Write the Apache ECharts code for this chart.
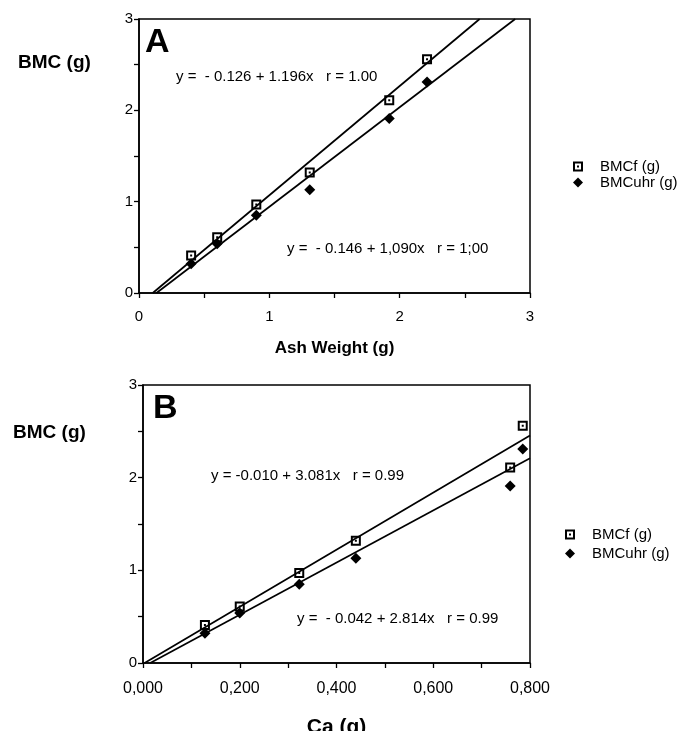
<!DOCTYPE html>
<html>
<head>
<meta charset="utf-8">
<script src="https://cdn.jsdelivr.net/npm/echarts@6/dist/echarts.min.js"></script>
<style>
  html, body { margin: 0; padding: 0; background: #fff; }
  #chart { width: 682px; height: 731px; }
</style>
</head>
<body>
<div id="chart"></div>
<script>
// x values for the two panels
const ashWeight = [0.40, 0.60, 0.90, 1.31, 1.92, 2.21];
const caGrams = [0.128, 0.200, 0.323, 0.440, 0.759, 0.785];
// measured BMC values (same samples in both panels)
const bmcf = [0.41, 0.61, 0.97, 1.32, 2.11, 2.56];
const bmcuhr = [0.32, 0.54, 0.85, 1.13, 1.91, 2.31];
// regression fits [intercept, slope]
const fitAshF = [-0.126, 1.196];
const fitAshUhr = [-0.146, 1.090];
const fitCaF = [-0.010, 3.081];
const fitCaUhr = [-0.042, 2.814];
const seriesNames = ["BMCf (g)", "BMCuhr (g)"];
const eqA = ["y =  - 0.126 + 1.196x   r = 1.00", "y =  - 0.146 + 1,090x   r = 1;00"];
const eqB = ["y = -0.010 + 3.081x   r = 0.99", "y =  - 0.042 + 2.814x   r = 0.99"];

const FONT = "Liberation Sans, Arial, sans-serif";
const squareDot = "path://M0,0H10V10H0Z M2,2V8H8V2Z M4,4H6V6H4Z";

function pairs(xs, ys) {
  return xs.map((x, i) => [x, ys[i]]);
}

// fitted line clipped to the plot box (y from 0 to ymax, x up to xmax)
function fitLine(fit, xmax, ymax) {
  const [a, b] = fit;
  const x0 = Math.max(0, -a / b);
  const x1 = Math.min(xmax, (ymax - a) / b);
  return [[x0, a + b * x0], [x1, a + b * x1]];
}

function scatter(name, idx, xs, ys, symbol, size) {
  return {
    name: name, type: "scatter", xAxisIndex: idx, yAxisIndex: idx,
    data: pairs(xs, ys), symbol: symbol, symbolSize: size,
    itemStyle: { color: "#000", opacity: 1 }, z: 5, animation: false,
  };
}

function line(idx, fit, xmax) {
  return {
    type: "line", xAxisIndex: idx, yAxisIndex: idx, data: fitLine(fit, xmax, 3),
    showSymbol: false, lineStyle: { color: "#000", width: 1.7 }, animation: false,
  };
}

const axisLine = { lineStyle: { color: "#000", width: 1.5 } };
const axisTick = { length: 5, lineStyle: { color: "#000", width: 1.3 } };

function yAxis(idx) {
  return {
    gridIndex: idx, type: "value", min: 0, max: 3, interval: 0.5,
    axisLine: axisLine, axisTick: axisTick, splitLine: { show: false },
    axisLabel: {
      margin: 6, color: "#000", fontSize: 15, fontFamily: FONT,
      formatter: v => (Math.abs(v - Math.round(v)) < 1e-6 ? String(Math.round(v)) : ""),
    },
  };
}

function text(t, left, top, size, bold) {
  return {
    text: t, left: left, top: top,
    textStyle: { color: "#000", fontSize: size, fontWeight: bold ? "bold" : "normal", fontFamily: FONT },
  };
}

function legend(left, top, gap) {
  return {
    orient: "vertical", left: left, top: top, itemWidth: 10, itemHeight: 10, itemGap: gap,
    data: [
      { name: seriesNames[0], icon: squareDot },
      { name: seriesNames[1], icon: "diamond" },
    ],
    textStyle: { color: "#000", fontSize: 15, fontFamily: FONT, padding: [0, 0, 0, 12] },
    selectedMode: false,
  };
}

const option = {
  backgroundColor: "#fff",
  grid: [
    { left: 139, top: 19, right: 152, bottom: 438, outerBoundsMode: "none",
      show: true, borderColor: "#000", borderWidth: 1.5 },
    { left: 143, top: 385, right: 152, bottom: 68, outerBoundsMode: "none",
      show: true, borderColor: "#000", borderWidth: 1.5 },
  ],
  xAxis: [
    {
      gridIndex: 0, type: "value", min: 0, max: 3, interval: 0.5,
      axisLine: axisLine, axisTick: axisTick, splitLine: { show: false },
      axisLabel: {
        margin: 16, color: "#000", fontSize: 15, fontFamily: FONT,
        formatter: v => (Math.abs(v - Math.round(v)) < 1e-6 ? String(Math.round(v)) : ""),
      },
      name: "Ash Weight (g)", nameLocation: "middle", nameGap: 47,
      nameTextStyle: { color: "#000", fontSize: 17, fontWeight: "bold", fontFamily: FONT },
    },
    {
      gridIndex: 1, type: "value", min: 0, max: 0.8, interval: 0.1,
      axisLine: axisLine, axisTick: axisTick, splitLine: { show: false },
      axisLabel: {
        margin: 18, color: "#000", fontSize: 16, fontFamily: FONT,
        formatter: v => (Math.round(v * 10) % 2 === 0 ? v.toFixed(3).replace(".", ",") : ""),
      },
      name: "Ca (g)", nameLocation: "middle", nameGap: 54,
      nameTextStyle: { color: "#000", fontSize: 21, fontWeight: "bold", fontFamily: FONT },
    },
  ],
  yAxis: [yAxis(0), yAxis(1)],
  title: [
    text("BMC (g)", 13, 48, 19, true),
    text("BMC (g)", 8, 418, 19, true),
    text("A", 140, 21, 34, true),
    text("B", 148, 387, 34, true),
    text(eqA[0], 171, 64, 15, false),
    text(eqA[1], 282, 236, 15, false),
    text(eqB[0], 206, 463, 15, false),
    text(eqB[1], 292, 606, 15, false),
  ],
  legend: [legend(568, 154, 1), legend(560, 522, 4)],
  series: [
    line(0, fitAshF, 3),
    line(0, fitAshUhr, 3),
    line(1, fitCaF, 0.8),
    line(1, fitCaUhr, 0.8),
    scatter(seriesNames[0], 0, ashWeight, bmcf, squareDot, 10),
    scatter(seriesNames[1], 0, ashWeight, bmcuhr, "diamond", 11),
    scatter(seriesNames[0], 1, caGrams, bmcf, squareDot, 10),
    scatter(seriesNames[1], 1, caGrams, bmcuhr, "diamond", 11),
  ],
};

const myChart = echarts.init(document.getElementById("chart"));
myChart.setOption(option);
</script>
</body>
</html>
